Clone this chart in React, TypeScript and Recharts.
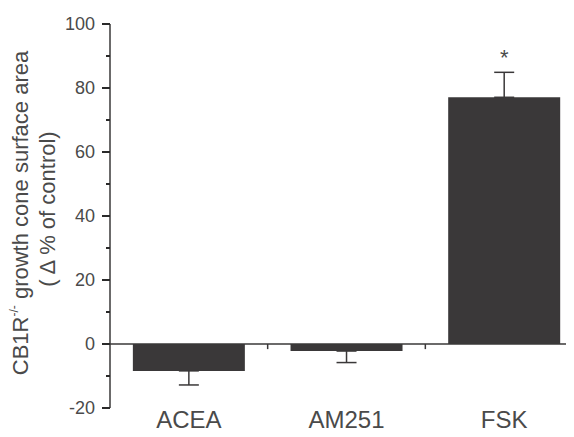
import React from "react";
import {
  BarChart,
  Bar,
  XAxis,
  YAxis,
  ErrorBar,
  ReferenceLine,
  ReferenceDot,
} from "recharts";

const categories = ["ACEA", "AM251", "FSK"];
const means = [-8.4, -2.2, 77.1];
const sem = [4.4, 3.6, 7.8];
const marks = ["", "", "*"];
const yTicks = [-20, -10, 0, 10, 20, 30, 40, 50, 60, 70, 80, 90, 100];

// error bars only point away from zero, like the original figure
const data = categories.map((name, i) => ({
  name,
  value: means[i],
  err: means[i] < 0 ? [sem[i], 0] : [0, sem[i]],
}));

const INK = "#3a3839";
const TEXT = "#4a4a4a";
const FONT = "'Liberation Sans', Arial, sans-serif";

// major ticks every 20 with a label, short minor ticks in between
function YTick(props: any) {
  const { x, y, payload } = props;
  const major = payload.value % 20 === 0;
  const len = major ? 8 : 4;
  return (
    <g>
      <rect x={x - len} y={y - 1} width={len} height={2} fill="#2a2a2a" />
      {major && (
        <text
          x={x - 15}
          y={y}
          dy="0.35em"
          textAnchor="end"
          fontSize={18}
          fontFamily={FONT}
          fill={TEXT}
        >
          {payload.value}
        </text>
      )}
    </g>
  );
}

const XTick = ({ x, y, payload }: any) => (
  <text
    x={x}
    y={y + 20}
    textAnchor="middle"
    fontSize={24}
    fontFamily={FONT}
    fill={TEXT}
  >
    {payload.value}
  </text>
);

const YLabel = () => (
  <g fontFamily={FONT} fontSize={22} fill={TEXT}>
    <text transform="translate(28,213) rotate(-90)" textAnchor="middle">
      CB1R
      <tspan fontSize={12} dy={-10}>
        -/-
      </tspan>
      <tspan dy={10}> growth cone surface area</tspan>
    </text>
    <text transform="translate(55,209) rotate(-90)" textAnchor="middle">
      ( Δ % of control)
    </text>
  </g>
);

const Star = ({ cx, cy, label }: any) => (
  <text x={cx} y={cy - 7} textAnchor="middle" fontSize={22} fontFamily={FONT} fill={TEXT}>
    {label}
  </text>
);

export default function App() {
  return (
    <div
      style={{
        margin: -8,
        width: 574,
        height: 437,
        overflow: "hidden",
        background: "#fff",
        position: "relative",
      }}
    >
      <BarChart
        width={600}
        height={437}
        data={data}
        margin={{ top: 24, right: 17, bottom: 0, left: 0 }}
        barCategoryGap="14.5%"
      >
        <XAxis
          dataKey="name"
          height={29}
          axisLine={false}
          tickLine={false}
          tickSize={0}
          tickMargin={0}
          tick={<XTick />}
        />
        <YAxis
          width={110}
          domain={[-20, 100]}
          ticks={yTicks}
          interval={0}
          axisLine={{ stroke: INK, strokeWidth: 1.5 }}
          tickLine={false}
          tickSize={0}
          tickMargin={0}
          tick={YTick}
          label={<YLabel />}
        />
        <ReferenceLine y={0} stroke={INK} strokeWidth={1.5} />
        {categories.slice(1).map((c) => (
          <ReferenceLine
            key={c}
            segment={[
              { x: c, y: 0 },
              { x: c, y: -1.6 },
            ]}
            position="start"
            stroke={INK}
            strokeWidth={1.5}
          />
        ))}
        <Bar dataKey="value" fill={INK} isAnimationActive={false}>
          <ErrorBar dataKey="err" width={10} stroke={INK} strokeWidth={1.5} />
        </Bar>
        {categories.map((c, i) =>
          marks[i] ? (
            <ReferenceDot
              key={c}
              x={c}
              y={means[i] + sem[i]}
              r={0}
              shape={(p: any) => <Star {...p} label={marks[i]} />}
            />
          ) : null
        )}
      </BarChart>
    </div>
  );
}
